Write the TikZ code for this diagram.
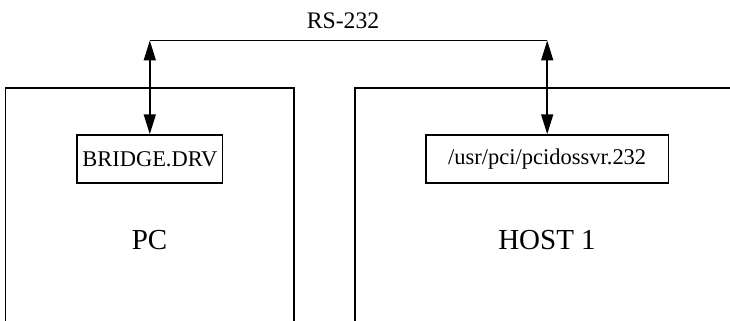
\documentclass[tikz,border=0pt]{standalone}
\usepackage{fontspec}
\setmainfont{Liberation Serif}
\usepackage{tikz}
\usetikzlibrary{arrows.meta, positioning}

\begin{document}
\begin{tikzpicture}[
  x=0.02cm, y=-0.02cm,
  >={Triangle[length=0.4cm, width=0.24cm]},
  every node/.style={align=center},
  hostline/.style={draw, line width=0.85pt},
  progbox/.style={draw, line width=0.85pt, minimum height=0.96cm, inner sep=0pt,
                  font=\fontsize{12.8}{15}\selectfont},
  hostlbl/.style={font=\fontsize{16.5}{19}\selectfont},
  link/.style={<->, line width=0.85pt},
]
\useasboundingbox (0,0) rectangle (730,321);

%% Machines (open at the bottom)
\coordinate (pcBL) at (5.6,321);
\coordinate (pcTR) at (294,88);
\coordinate (hostBL) at (355,321);
\coordinate (hostTR) at (730,88);
\draw[hostline] (pcBL) |- (pcTR) -- (pcTR |- pcBL);
\draw[hostline] (hostBL) |- (hostTR);

%% Programs
\node[progbox, minimum width=2.91cm] (bridge) at (149.8,159) {BRIDGE.DRV};
\node[progbox, minimum width=4.85cm] (server) at (547.2,159) {/usr/pci/pcidossvr.232};

\node[hostlbl] (pc) at (149.5,240) {PC};
\node[hostlbl] (host) at (547,240) {HOST 1};

%% Serial line
\coordinate (rsL) at (149.8,40.5);
\coordinate (rsR) at (547.2,40.5);
\draw[line width=0.85pt] (rsL) -- (rsR);
\node[anchor=base, font=\fontsize{13.5}{16}\selectfont] (rs) at (343,29) {RS-232};

%% Arrows
\draw[link] (rsL) -- (bridge.north);
\draw[link] (rsR) -- (server.north);

\end{tikzpicture}
\end{document}
